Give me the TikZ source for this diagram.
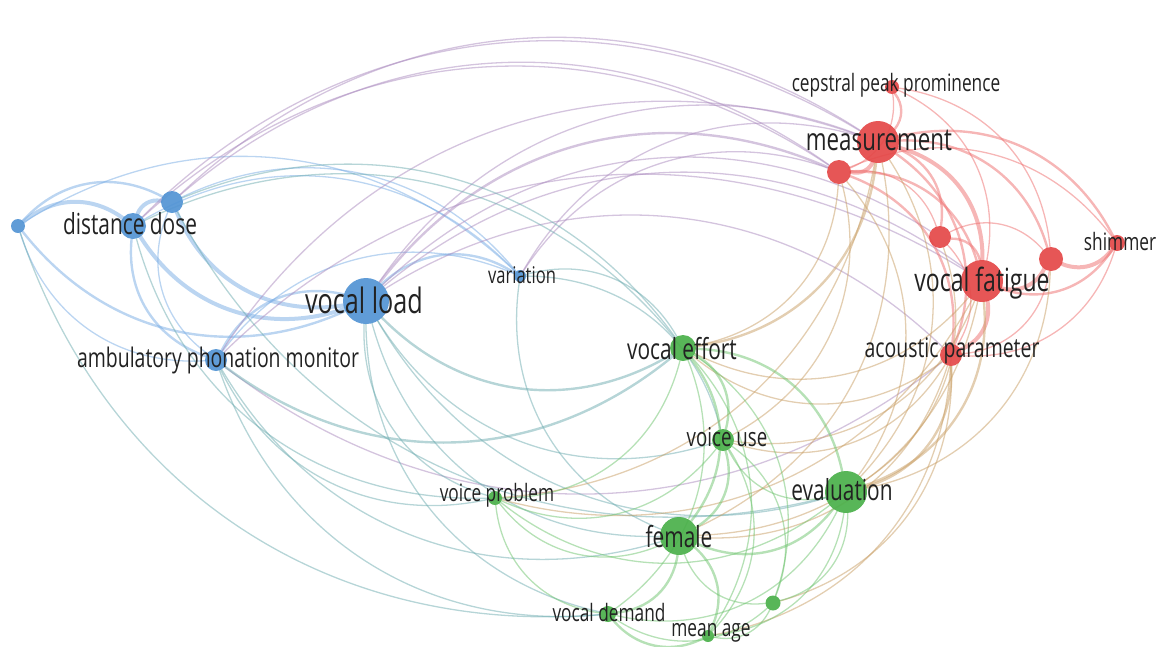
\documentclass[tikz,border=0pt]{standalone}
\usepackage{fontspec}
\setmainfont{Open Sans}[FakeStretch=0.72]
\usepackage{tikz}
\usetikzlibrary{calc}
\pgfdeclarelayer{bg}
\pgfsetlayers{bg,main}
\definecolor{bluenode}{RGB}{82,148,212}
\definecolor{rednode}{RGB}{228,72,72}
\definecolor{greennode}{RGB}{74,176,74}
\definecolor{labelgray}{RGB}{34,34,34}
\newcommand\fsz[1]{\fontsize{#1}{#1}\selectfont}

\begin{document}
\begin{tikzpicture}[
x=1pt, y=-1pt,
kw/.style={circle, inner sep=0pt, fill opacity=.92},
bluekw/.style={kw, fill=bluenode},
redkw/.style={kw, fill=rednode},
greenkw/.style={kw, fill=greennode},
lbl/.style={text=labelgray, inner sep=0pt},
link/.style={draw opacity=.5, line cap=round},
bl/.style={link, draw={rgb,255:red,120;green,172;blue,228}},
rd/.style={link, draw={rgb,255:red,238;green,110;blue,110}},
gr/.style={link, draw={rgb,255:red,110;green,195;blue,110}},
pu/.style={link, draw={rgb,255:red,170;green,138;blue,190}},
te/.style={link, draw={rgb,255:red,110;green,172;blue,176}},
ol/.style={link, draw={rgb,255:red,200;green,158;blue,100}}
]
\useasboundingbox (0,0) rectangle (1159,646);
\coordinate (ctr) at (580,330);

% blue cluster
\node[bluekw, minimum size=14] (b1) at (18,226) {};
\node[bluekw, minimum size=26] (dd) at (133,226) {};
\node[bluekw, minimum size=22] (b2) at (172,202) {};
\node[bluekw, minimum size=46] (vl) at (366,301) {};
\node[bluekw, minimum size=22] (apm) at (216,360) {};
\node[bluekw, minimum size=12] (var) at (520,276) {};
% red cluster
\node[redkw, minimum size=42] (ms) at (878,142) {};
\node[redkw, minimum size=24] (r1) at (839,172) {};
\node[redkw, minimum size=14] (cpp) at (892,87) {};
\node[redkw, minimum size=22] (r2) at (940,237) {};
\node[redkw, minimum size=42] (vf) at (982,281) {};
\node[redkw, minimum size=24] (r3) at (1051,259) {};
\node[redkw, minimum size=16] (sh) at (1117,243) {};
\node[redkw, minimum size=22] (ap) at (951,355) {};
% green cluster
\node[greenkw, minimum size=26] (ve) at (683,348) {};
\node[greenkw, minimum size=22] (vu) at (723,440) {};
\node[greenkw, minimum size=42] (ev) at (846,492) {};
\node[greenkw, minimum size=14] (vp) at (495,498) {};
\node[greenkw, minimum size=38] (fe) at (679,536) {};
\node[greenkw, minimum size=16] (vd) at (608,614) {};
\node[greenkw, minimum size=12] (ma) at (708,636) {};
\node[greenkw, minimum size=15] (g1) at (773,603) {};

% labels
\node[lbl, font=\fsz{29}] (dd-l) at (130,224) {distance dose};
\node[lbl, font=\fsz{35}] (vl-l) at (364,300) {vocal load};
\node[lbl, font=\fsz{27}] (apm-l) at (218,360) {ambulatory phonation monitor};
\node[lbl, font=\fsz{23}] (var-l) at (522,275) {variation};
\node[lbl, font=\fsz{31}] (ms-l) at (879,140) {measurement};
\node[lbl, font=\fsz{24}] (cpp-l) at (896,85) {cepstral peak prominence};
\node[lbl, font=\fsz{32}] (vf-l) at (982,283) {vocal fatigue};
\node[lbl, font=\fsz{24}] (sh-l) at (1120,241) {shimmer};
\node[lbl, font=\fsz{27}] (ap-l) at (952,351) {acoustic parameter};
\node[lbl, font=\fsz{29}] (ve-l) at (682,349) {vocal effort};
\node[lbl, font=\fsz{26}] (vu-l) at (727,437) {voice use};
\node[lbl, font=\fsz{29}] (ev-l) at (842,490) {evaluation};
\node[lbl, font=\fsz{24}] (vp-l) at (497,495) {voice problem};
\node[lbl, font=\fsz{29}] (fe-l) at (679,537) {female};
\node[lbl, font=\fsz{24}] (vd-l) at (609,612) {vocal demand};
\node[lbl, font=\fsz{24}] (ma-l) at (711,633) {mean age};

% links, bent clockwise round the middle
\begin{pgfonlayer}{bg}
\foreach \a/\b/\w/\c in {
  b1/dd/4/bl, b1/b2/2.4/bl, b1/vl/2.4/bl, b1/apm/1.3/bl, dd/b2/4/bl,
  dd/vl/4/bl, dd/apm/2.4/bl, b2/vl/4/bl, b2/apm/1.3/bl, vl/apm/2.4/bl,
  vl/var/2.4/bl, dd/var/1.3/bl, b2/var/1.3/bl, apm/var/1.3/bl, b1/var/1.3/bl,
  b2/ms/1.3/pu, dd/ms/1.3/pu, b2/r1/1.3/pu, vl/ms/1.3/pu, vl/r1/2.4/pu,
  vl/vf/1.3/pu, vl/ap/1.3/pu, var/ms/1.3/pu, var/r1/1.3/pu, apm/vf/1.3/pu,
  apm/ms/1.3/pu, dd/r1/1.3/pu, vl/r2/1.3/pu, apm/ap/1.3/pu,
  vl/ve/2.4/te, vl/vp/1.3/te, vl/fe/1.3/te, vl/vu/1.3/te, vl/ev/1.3/te,
  apm/vd/1.3/te, apm/vp/1.3/te, apm/fe/1.3/te, dd/ve/1.3/te, b2/ev/1.3/te,
  var/ve/1.3/te, var/fe/1.3/te, var/vu/1.3/te, apm/ve/2.4/te, b1/vd/1.3/te,
  dd/vp/1.3/te, vl/vd/1.3/te, b2/ve/1.3/te,
  ms/r1/4/rd, ms/cpp/2.4/rd, ms/r2/2.4/rd, ms/vf/4/rd, ms/r3/2.4/rd,
  ms/sh/2.4/rd, ms/ap/2.4/rd, r1/cpp/1.3/rd, r1/vf/2.4/rd, r1/r2/1.3/rd,
  r1/ap/2.4/rd, r2/vf/2.4/rd, r2/r3/1.3/rd, vf/r3/4/rd, vf/sh/2.4/rd,
  r3/sh/4/rd, vf/ap/4/rd, r2/ap/1.3/rd, cpp/vf/1.3/rd, cpp/r3/1.3/rd,
  r1/sh/1.3/rd, ap/r3/1.3/rd, ap/sh/1.3/rd,
  ms/ve/2.4/ol, r1/ve/1.3/ol, r1/ev/1.3/ol, ms/ev/1.3/ol, ms/fe/1.3/ol,
  vf/ev/2.4/ol, vf/ve/1.3/ol, ap/ev/2.4/ol, ap/ve/1.3/ol, vf/fe/1.3/ol,
  vf/vu/1.3/ol, r2/ev/1.3/ol, ap/fe/1.3/ol, ap/g1/1.3/ol, ap/vu/1.3/ol,
  r1/vu/1.3/ol, ms/vp/1.3/ol, vf/vp/1.3/ol, ap/ma/1.3/ol, ev/r3/1.3/ol,
  ve/vu/2.4/gr, ve/ev/2.4/gr, ve/fe/2.4/gr, ve/vp/1.3/gr, ve/vd/1.3/gr,
  ve/ma/1.3/gr, vu/fe/2.4/gr, vu/ev/1.3/gr, vu/vp/1.3/gr, vu/ma/1.3/gr,
  fe/ev/2.4/gr, fe/vd/2.4/gr, fe/ma/2.4/gr, fe/g1/1.3/gr, fe/vp/1.3/gr,
  ev/g1/1.3/gr, ev/ma/1.3/gr, ev/vd/1.3/gr, vd/ma/2.4/gr, vd/g1/1.3/gr,
  ma/g1/1.3/gr, vp/vd/1.3/gr, vp/ev/1.3/gr, g1/ve/1.3/gr, g1/vu/1.3/gr}
{
  \draw[\c, line width=\w] let \p0=(ctr), \p1=(\a), \p2=(\b),
    \n1={ifthenelse(((\x1-\x0)/100)*((\y2-\y1)/100)-((\y1-\y0)/100)*((\x2-\x1)/100)<0,38,-38)}
    in (\a) to[bend left=\n1] (\b);
}
\end{pgfonlayer}
\end{tikzpicture}
\end{document}
